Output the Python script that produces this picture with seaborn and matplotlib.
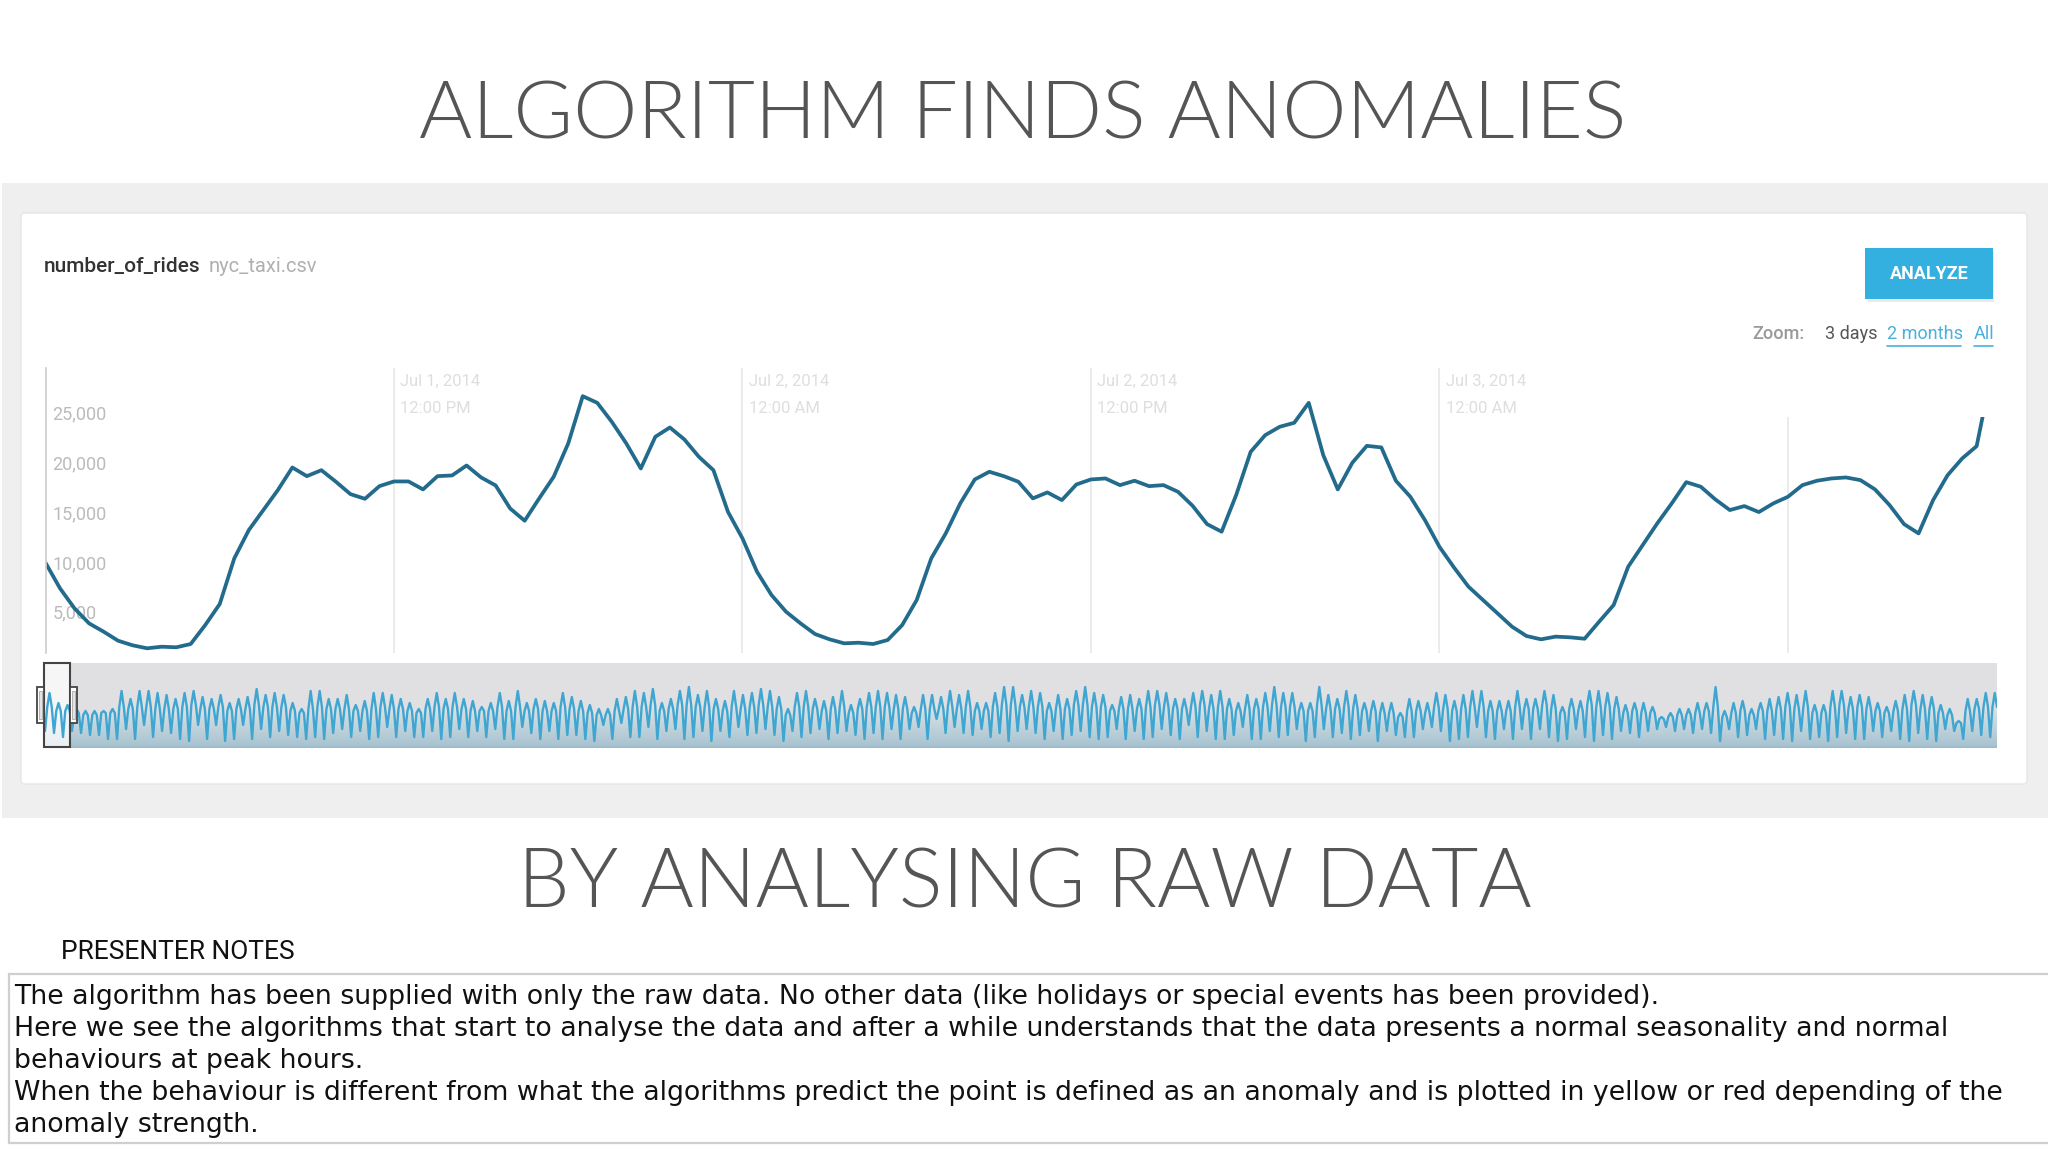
import numpy as np
import pandas as pd
import matplotlib
matplotlib.use("Agg")
import matplotlib.pyplot as plt
import matplotlib.dates as mdates
from matplotlib.patches import Rectangle, FancyBboxPatch
import seaborn as sns

title_top = "ALGORITHM FINDS ANOMALIES"
title_bottom = "BY ANALYSING RAW DATA"
notes_heading = "PRESENTER NOTES"
notes_lines = [
    "The algorithm has been supplied with only the raw data. No other data (like holidays or special events has been provided).",
    "Here we see the algorithms that start to analyse the data and after a while understands that the data presents a normal seasonality and normal",
    "behaviours at peak hours.",
    "When the behaviour is different from what the algorithms predict the point is defined as an anomaly and is plotted in yellow or red depending of the",
    "anomaly strength.",
]
y_ticks = [5000, 10000, 15000, 20000, 25000]
y_tick_labels = ["5,000", "10,000", "15,000", "20,000", "25,000"]
x_tick_labels = ["Jul 1, 2014\n12:00 PM", "Jul 2, 2014\n12:00 AM", "Jul 2, 2014\n12:00 PM",
                 "Jul 3, 2014\n12:00 AM", "Jul 3, 2014\n12:00 PM"]

# half-hourly rides, zoomed window
rides = [9920, 7350, 5340, 3840, 3010, 2100, 1640, 1340, 1500, 1440, 1770, 3670, 5780, 10350, 13190,
         15200, 17200, 19470, 18600, 19200, 18040, 16800, 16330, 17600, 18070, 18070, 17270, 18600, 18670, 19670,
         18470, 17670, 15360, 14130, 16370, 18540, 21880, 26620, 25950, 24050, 21880, 19370, 22550, 23480, 22280,
         20540, 19200, 15030, 12360, 9020, 6680, 5010, 3840, 2770, 2240, 1840, 1900, 1770, 2170, 3670,
         6180, 10350, 12860, 15870, 18270, 19040, 18600, 18040, 16370, 16970, 16200, 17770, 18270, 18370, 17700,
         18140, 17600, 17700, 17030, 15630, 13790, 13030, 16700, 21040, 22710, 23550, 23950, 25950, 20710, 17270,
         19940, 21640, 21480, 18140, 16530, 14200, 11520, 9450, 7520, 6180, 4840, 3510, 2570, 2240, 2510,
         2440, 2300, 4010, 5680, 9520, 11690, 13860, 15870, 18000, 17540, 16270, 15200, 15600, 15000, 15870,
         16530, 17700, 18140, 18370, 18470, 18200, 17270, 15700, 13790, 12860, 16200, 18700, 20370, 21610, 28800]

# daily low, plateau and high of the full range, thousands of rides
overview_lows = [8,7,5,8,7,6,6,4,4,9,4,11,5,8,7,4,3,11,4,11,3,4,11,4,9,5,8,6,5,4,5,4,7,9,5,8,4,5,10,5,8,5,5,8,4,5,9,5,8,5,9,4,4,10,
                 7,4,8,4,6,6,4,3,11,4,12,5,5,10,4,8,9,4,5,8,3,8,5,10,6,7,9,6,3,8,5,7,9,4,7,8,6,4,7,4,9,4,9,10,4,14,7,10,7,6,9,5,7,
                 3,8,9,7,4,8,4,6,8,5,4,5,9,4,8,4,5,9,6,4,11,5,8,4,4,6,10,4,4,8,5,6,9,3,5,9,5,7,4,6,8,3,8,6,5,5,9,10,8,3,4,5,10,5,4,
                 9,4,9,4,9,5,3,4,9,5,3,6,4,8,7,5,8,9,10,8,9,7,9,7,3,9,5,6,9,4,6,4,3,8,4,5,3,5,7,4,4,8,5,8,4,3,7,4,3,9,8,4,8,6,5]
overview_mids = [20,18,18,17,16,16,17,17,20,19,20,20,19,19,19,20,21,19,19,20,18,19,19,21,20,20,20,18,17,19,20,19,19,19,18,18,19,20,19,19,18,17,19,20,19,20,19,18,18,18,20,18,20,18,
                 19,18,18,20,19,18,17,16,16,18,19,20,20,21,18,19,21,21,20,20,19,18,20,19,20,21,20,19,16,20,20,19,18,19,20,17,19,20,20,20,19,19,17,19,19,19,20,19,20,18,18,20,21,
                 21,20,20,20,18,19,19,21,21,20,20,18,19,19,19,20,21,20,19,19,20,21,19,20,19,18,19,19,20,21,20,20,18,18,21,19,19,20,19,18,18,17,17,15,18,18,17,20,19,18,19,20,20,18,18,
                 18,20,19,19,21,19,17,19,18,21,20,20,19,17,18,17,17,14,15,16,16,17,18,20,15,17,18,16,18,18,19,20,19,20,17,17,20,21,19,20,19,18,17,18,19,21,19,19,17,16,12,18,19,20,20]
overview_highs = [27,22,21,19,18,18,18,19,28,24,28,28,27,26,24,27,28,25,24,26,22,24,25,29,26,27,26,22,19,28,28,24,24,26,21,23,27,27,26,24,22,19,24,27,24,27,24,23,20,22,27,23,28,22,
                  24,23,22,27,25,23,21,19,19,24,25,28,27,29,22,24,28,30,26,28,24,23,28,26,27,29,28,25,19,27,28,24,23,25,28,21,24,27,28,27,26,25,20,26,26,25,28,26,28,22,22,27,30,
                  30,26,28,27,22,26,24,28,30,27,26,21,25,26,24,28,28,27,24,24,27,28,26,28,24,22,26,24,27,30,27,27,22,22,30,26,24,28,26,22,23,22,22,17,24,23,22,27,26,23,26,28,28,23,23,
                  23,28,24,24,28,26,20,24,23,28,28,27,25,21,22,22,20,15,17,19,19,22,22,30,18,22,23,19,22,24,25,27,26,28,21,21,28,28,25,26,25,22,20,23,26,28,26,25,21,19,13,24,24,27,27]

W, H = 2048, 1152
sns.set_theme(style="white")
plt.rcParams["font.family"] = ["Roboto", "DejaVu Sans"]
fig = plt.figure(figsize=(W / 100, H / 100), dpi=100, facecolor="white")


def px_axes(left, top, right, bottom, z):
    return fig.add_axes([left / W, 1 - bottom / H, (right - left) / W, (bottom - top) / H], zorder=z)


# page layer in pixel units
bg = px_axes(0, 0, W, H, 0)
bg.set_xlim(0, W); bg.set_ylim(H, 0); bg.axis("off")
bg.add_patch(Rectangle((2, 183), W - 2, 635, fc="#efefef", ec="none"))
bg.add_patch(FancyBboxPatch((24, 216), 2000, 565, boxstyle="round,pad=3,rounding_size=4", fc="white", ec="#e6e6e6", lw=1))
bg.text(1023, 116, title_top, ha="center", va="center", fontsize=58.5, color="#555555", family=["Lato", "DejaVu Sans"], weight=300)
bg.text(1025, 885, title_bottom, ha="center", va="center", fontsize=58.8, color="#555555", family=["Lato", "DejaVu Sans"], weight=300)
bg.text(61, 952, notes_heading, ha="left", va="center", fontsize=19, color="#111111")
bg.add_patch(Rectangle((9, 974), W, 169, fc="white", ec="#cfcfcf", lw=1.6))
for yy, line in zip([997, 1029, 1061, 1093, 1125], notes_lines):
    bg.text(14, yy, line, ha="left", va="center", fontsize=19.25, color="#111111", family="DejaVu Sans")

bg.text(44, 266, "number_of_rides", ha="left", va="center", fontsize=15, color="#333333", weight="medium")
bg.text(209, 266, "nyc_taxi.csv", ha="left", va="center", fontsize=14.5, color="#b0b0b0")
bg.add_patch(Rectangle((1868, 252), 126, 50, fc="#eaeaea", ec="none"))
bg.add_patch(Rectangle((1865, 248), 128, 51, fc="#33b0e0", ec="none"))
bg.text(1929, 274, "ANALYZE", ha="center", va="center", fontsize=13, color="white", weight="bold")
bg.text(1752, 334, "Zoom:", ha="left", va="center", fontsize=13, color="#999999", weight="medium")
bg.text(1825, 334, "3 days", ha="left", va="center", fontsize=13, color="#555555")
bg.text(1887, 334, "2 months", ha="left", va="center", fontsize=13, color="#4ab0dc")
bg.text(1974, 334, "All", ha="left", va="center", fontsize=13, color="#4ab0dc")
bg.plot([1887, 1961], [346, 346], color="#4ab0dc", lw=1.2)
bg.plot([1974, 1993], [346, 346], color="#4ab0dc", lw=1.2)

# main chart
t0 = pd.Timestamp("2014-07-01 00:00")
step = pd.Timedelta(minutes=30)
main_df = pd.DataFrame({"time": pd.date_range(t0, periods=len(rides), freq="30min"), "rides": rides})
ax = px_axes(45.5, 368, 1997, 653, 2)
ax.patch.set_alpha(0)
sns.lineplot(data=main_df, x="time", y="rides", ax=ax, color="#236b8c", lw=2.7, estimator=None, sort=False)
ax.set_xlim(t0, t0 + step * ((1997 - 45.5) / 14.52))
ax.set_ylim((661.67 - 653) / 49.87 * 5000, (661.67 - 368) / 49.87 * 5000)
ax.set_xlabel(""); ax.set_ylabel("")
ax.set_axisbelow(True)
ticks = [t0 + pd.Timedelta(hours=12) * i for i in range(1, 6)]
ax.set_xticks(ticks)
ax.set_xticklabels([])
ax.set_yticks(y_ticks)
ax.set_yticklabels(y_tick_labels, ha="left", color="#bbbbbb", fontsize=13)
ax.tick_params(axis="y", length=0, pad=-5)
ax.tick_params(axis="x", length=0)
ax.grid(axis="x", color="#e8e8e8", lw=1.2)
ax.grid(axis="y", visible=False)
for s in ["top", "right", "bottom"]:
    ax.spines[s].set_visible(False)
ax.spines["left"].set_color("#cccccc")
ax.spines["left"].set_linewidth(1.2)
for t, lab in zip(ticks, x_tick_labels):
    ax.annotate(lab, (mdates.date2num(t), 1), xycoords=("data", "axes fraction"), xytext=(4.5, -4.5),
                textcoords="offset points", va="top", ha="left", fontsize=12, color="#dedede", linespacing=2.0)

# overview band: low, plateau, high, plateau for every day
ov = []
for lo, mid, hi in zip(overview_lows, overview_mids, overview_highs):
    ov += [lo * 1000, mid * 1000, hi * 1000, mid * 1000]
ov_df = pd.DataFrame({"time": pd.date_range("2014-07-01", periods=len(ov), freq="6h"), "rides": ov})
ax2 = px_axes(45, 663, 1997, 747, 2)
ax2.set_facecolor("#e0dfe1")
xnum = mdates.date2num(ov_df["time"])
ymax = 42000
ax2.set_xlim(xnum[0], xnum[-1]); ax2.set_ylim(0, ymax)
grad = np.linspace(0, 1, 256).reshape(-1, 1)
cmap = matplotlib.colors.LinearSegmentedColormap.from_list("g", ["#e2e5e8", "#dfe4e7", "#a6c3d0"])
im = ax2.imshow(grad, extent=[xnum[0], xnum[-1], 0, ymax], origin="upper", aspect="auto", cmap=cmap, zorder=1)
poly = ax2.fill_between(xnum, 0, ov, color="none")
im.set_clip_path(poly.get_paths()[0], transform=ax2.transData)
sel_end = xnum[0] + (70 - 45) / 1952 * (xnum[-1] - xnum[0])
ax2.axvspan(xnum[0], sel_end, color="white", alpha=0.75, lw=0, zorder=2)
sns.lineplot(data=ov_df, x="time", y="rides", ax=ax2, color="#3fa6d2", lw=1.7, estimator=None, sort=False, zorder=3)
ax2.set_xlim(xnum[0], xnum[-1]); ax2.set_ylim(0, ymax)
ax2.set_xlabel(""); ax2.set_ylabel("")
ax2.set_xticks([]); ax2.set_yticks([])
for s in ax2.spines.values():
    s.set_visible(False)

# foreground pixel layer
fg = px_axes(0, 0, W, H, 5)
fg.set_xlim(0, W); fg.set_ylim(H, 0); fg.axis("off"); fg.patch.set_alpha(0)
fg.add_patch(Rectangle((1775, 360), 225, 57, fc="white", ec="none"))
fg.add_patch(Rectangle((45, 746), 1952, 1.5, fc="#9fbccb", ec="none"))
fg.add_patch(Rectangle((44, 663), 26, 84, fc="none", ec="#444444", lw=1.5))
for hx in (37, 70):
    fg.add_patch(Rectangle((hx, 687), 7, 36, fc="white", ec="#444444", lw=1.3))
    fg.add_patch(Rectangle((hx + 2, 691), 3, 28, fc="#e3e3e3", ec="#aaaaaa", lw=0.6))

fig.savefig("out.png", dpi=100, facecolor="white")
